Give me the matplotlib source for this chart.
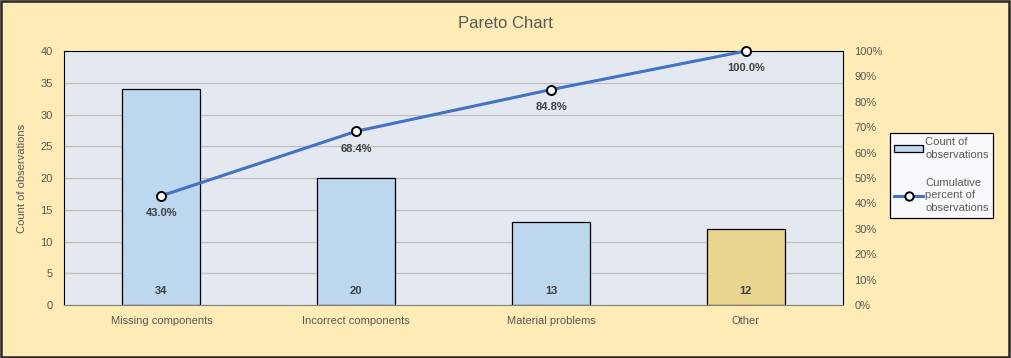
import numpy as np
import matplotlib.pyplot as plt
from matplotlib.lines import Line2D
from matplotlib.patches import Patch, Rectangle

categories = ['Missing components', 'Incorrect components', 'Material problems', 'Other']
counts = [34, 20, 13, 12]
cum_pct = [43.0, 68.4, 84.8, 100.0]
bar_colors = ['#BDD7EE', '#BDD7EE', '#BDD7EE', '#E8D68E']

plt.rcParams['font.family'] = ['Liberation Sans', 'DejaVu Sans']
txt = '#595959'

fig = plt.figure(figsize=(10.11, 3.58), dpi=100)
fig.patch.set_facecolor('#FFEBB5')
fig.patches.append(Rectangle((0.001, 0.002), 0.997, 0.995, transform=fig.transFigure,
                             fill=False, edgecolor='#262626', linewidth=1.8))

ax = fig.add_axes([0.0633, 0.148, 0.7707, 0.7095])
ax.set_facecolor('#E4E8F0')
x = np.arange(len(categories))
ax.bar(x, counts, width=0.4, color=bar_colors, edgecolor='black', linewidth=0.9, zorder=2)
for xi, c in zip(x, counts):
    ax.text(xi, 2.2, str(c), ha='center', va='center', fontsize=8, fontweight='bold',
            color='#404040', zorder=3)
ax.set_xlim(-0.5, 3.5)
ax.set_ylim(0, 40)
ax.set_yticks(range(0, 41, 5))
ax.set_xticks(x)
ax.set_xticklabels(categories)
ax.grid(axis='y', color='#BFBFBF', linewidth=0.9, zorder=0)
ax.set_axisbelow(True)
ax.tick_params(length=0, labelsize=8, colors=txt, pad=8)
ax.set_ylabel('Count of observations', fontsize=8, color=txt, labelpad=10)
for s in ['top', 'left', 'right']:
    ax.spines[s].set_color('black')
ax.spines['bottom'].set_color('#7F7F7F')

ax2 = ax.twinx()
ax2.set_ylim(0, 100)
ax2.set_yticks(range(0, 101, 10))
ax2.set_yticklabels([f'{v}%' for v in range(0, 101, 10)])
ax2.tick_params(length=0, labelsize=8, colors=txt, pad=8)
for s in ax2.spines.values():
    s.set_visible(False)
ax2.plot(x, cum_pct, color='#4472C4', linewidth=2.2, marker='o', markersize=6.5,
         markerfacecolor='white', markeredgecolor='black', markeredgewidth=1.4,
         zorder=5, clip_on=False)
for xi, p in zip(x, cum_pct):
    ax2.text(xi, p - 6.8, f'{p:.1f}%', ha='center', va='center', fontsize=8,
             fontweight='bold', color='#404040')

fig.text(0.5, 0.935, 'Pareto Chart', ha='center', va='center', fontsize=12, color=txt)

handles = [Patch(facecolor='#BDD7EE', edgecolor='black', linewidth=0.9),
           Line2D([], [], color='#4472C4', linewidth=2.2, marker='o', markersize=6,
                  markerfacecolor='white', markeredgecolor='black', markeredgewidth=1.4)]
leg = fig.legend(handles, ['Count of\nobservations', 'Cumulative\npercent of\nobservations'],
                 loc='upper left', bbox_to_anchor=(0.8745, 0.645), fontsize=8,
                 frameon=True, fancybox=False, edgecolor='black', facecolor='#F8F9FC',
                 framealpha=1, handlelength=2.6, handletextpad=0.2, labelspacing=1.6,
                 borderpad=0.4, labelcolor=txt)
leg.get_frame().set_linewidth(0.9)
for t in leg.get_texts():
    t.set_linespacing(1.35)

fig.savefig('out.png', dpi=100, facecolor=fig.get_facecolor())
